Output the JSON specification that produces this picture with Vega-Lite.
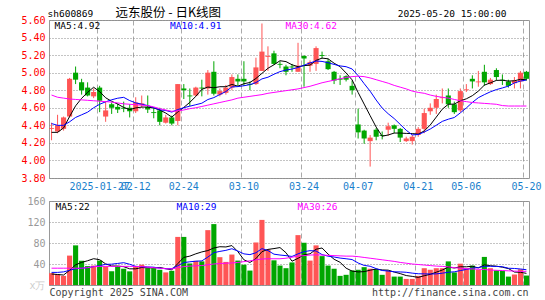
{
"$schema": "https://vega.github.io/schema/vega-lite/v6.json",
"padding": {"left": 20, "top": 5, "right": 10, "bottom": 0},
"background": "white",
"data": {"values": [
{"d":"01-15","o":4.36,"h":4.43,"l":4.23,"c":4.37,"v":22.6,"MA5":4.32,"MA10":4.42,"MA30":4.745,"VMA5":21,"VMA10":24,"VMA30":32},
{"d":"01-16","o":4.33,"h":4.52,"l":4.31,"c":4.40,"v":20.6,"MA5":4.32,"MA10":4.40,"MA30":4.72,"VMA5":20,"VMA10":24,"VMA30":32},
{"d":"01-17","o":4.36,"h":4.50,"l":4.34,"c":4.49,"v":17.4,"MA5":4.37,"MA10":4.40,"MA30":4.71,"VMA5":19,"VMA10":25,"VMA30":32},
{"d":"01-20","o":4.50,"h":4.94,"l":4.49,"c":4.93,"v":56,"MA5":4.50,"MA10":4.44,"MA30":4.70,"VMA5":28,"VMA10":28,"VMA30":32},
{"d":"01-21","o":5.00,"h":5.07,"l":4.87,"c":4.92,"v":75.5,"MA5":4.622,"MA10":4.49,"MA30":4.695,"VMA5":38.4,"VMA10":31,"VMA30":32},
{"d":"01-22","o":4.89,"h":4.93,"l":4.75,"c":4.80,"v":46,"MA5":4.708,"MA10":4.52,"MA30":4.69,"VMA5":43.1,"VMA10":32,"VMA30":32},
{"d":"01-23","o":4.83,"h":4.89,"l":4.73,"c":4.74,"v":36,"MA5":4.776,"MA10":4.55,"MA30":4.685,"VMA5":46.2,"VMA10":33,"VMA30":33},
{"d":"01-24","o":4.73,"h":4.82,"l":4.71,"c":4.78,"v":37,"MA5":4.834,"MA10":4.60,"MA30":4.68,"VMA5":50.1,"VMA10":35,"VMA30":35},
{"d":"01-27","o":4.83,"h":4.85,"l":4.55,"c":4.68,"v":46.5,"MA5":4.784,"MA10":4.64,"MA30":4.675,"VMA5":48.2,"VMA10":37,"VMA30":35.5},
{"d":"02-05","o":4.50,"h":4.67,"l":4.44,"c":4.57,"v":35.5,"MA5":4.714,"MA10":4.668,"MA30":4.67,"VMA5":40.2,"VMA10":39.3,"VMA30":35.5},
{"d":"02-06","o":4.64,"h":4.66,"l":4.53,"c":4.60,"v":26,"MA5":4.674,"MA10":4.691,"MA30":4.665,"VMA5":36.2,"VMA10":39.7,"VMA30":35.5},
{"d":"02-07","o":4.61,"h":4.65,"l":4.54,"c":4.58,"v":35.5,"MA5":4.642,"MA10":4.709,"MA30":4.655,"VMA5":36.1,"VMA10":41.1,"VMA30":35.5},
{"d":"02-10","o":4.60,"h":4.67,"l":4.55,"c":4.59,"v":31,"MA5":4.604,"MA10":4.719,"MA30":4.645,"VMA5":34.9,"VMA10":42.5,"VMA30":35.5},
{"d":"02-11","o":4.60,"h":4.64,"l":4.49,"c":4.56,"v":26,"MA5":4.58,"MA10":4.682,"MA30":4.64,"VMA5":30.8,"VMA10":39.5,"VMA30":35.5},
{"d":"02-12","o":4.56,"h":4.72,"l":4.54,"c":4.66,"v":35.5,"MA5":4.598,"MA10":4.656,"MA30":4.635,"VMA5":30.8,"VMA10":35.5,"VMA30":35.5},
{"d":"02-13","o":4.63,"h":4.74,"l":4.60,"c":4.65,"v":38.7,"MA5":4.608,"MA10":4.641,"MA30":4.63,"VMA5":33.3,"VMA10":34.8,"VMA30":35},
{"d":"02-14","o":4.61,"h":4.74,"l":4.54,"c":4.58,"v":32,"MA5":4.608,"MA10":4.625,"MA30":4.625,"VMA5":32.6,"VMA10":34.4,"VMA30":34},
{"d":"02-17","o":4.55,"h":4.60,"l":4.48,"c":4.54,"v":32,"MA5":4.598,"MA10":4.601,"MA30":4.61,"VMA5":32.8,"VMA10":33.9,"VMA30":33},
{"d":"02-18","o":4.57,"h":4.60,"l":4.40,"c":4.44,"v":29,"MA5":4.574,"MA10":4.577,"MA30":4.59,"VMA5":33.4,"VMA10":32.1,"VMA30":32},
{"d":"02-19","o":4.43,"h":4.52,"l":4.42,"c":4.49,"v":24,"MA5":4.54,"MA10":4.569,"MA30":4.575,"VMA5":31.1,"VMA10":31.0,"VMA30":31},
{"d":"02-20","o":4.49,"h":4.51,"l":4.40,"c":4.42,"v":27,"MA5":4.494,"MA10":4.551,"MA30":4.56,"VMA5":28.8,"VMA10":31.1,"VMA30":30.5},
{"d":"02-21","o":4.45,"h":4.87,"l":4.40,"c":4.87,"v":91.6,"MA5":4.552,"MA10":4.58,"MA30":4.565,"VMA5":40.7,"VMA10":36.7,"VMA30":33},
{"d":"02-24","o":4.82,"h":4.87,"l":4.70,"c":4.80,"v":91.6,"MA5":4.604,"MA10":4.601,"MA30":4.575,"VMA5":52.6,"VMA10":42.7,"VMA30":35},
{"d":"02-25","o":4.74,"h":4.82,"l":4.62,"c":4.73,"v":41,"MA5":4.662,"MA10":4.618,"MA30":4.59,"VMA5":55.0,"VMA10":44.2,"VMA30":36},
{"d":"02-26","o":4.74,"h":4.84,"l":4.73,"c":4.83,"v":46,"MA5":4.73,"MA10":4.635,"MA30":4.60,"VMA5":59.4,"VMA10":45.3,"VMA30":36.5},
{"d":"02-27","o":4.83,"h":4.92,"l":4.73,"c":4.82,"v":45,"MA5":4.81,"MA10":4.652,"MA30":4.615,"VMA5":63.0,"VMA10":45.9,"VMA30":37},
{"d":"02-28","o":4.82,"h":5.03,"l":4.75,"c":5.00,"v":104.5,"MA5":4.836,"MA10":4.694,"MA30":4.63,"VMA5":65.6,"VMA10":53.2,"VMA30":38.5},
{"d":"03-03","o":5.01,"h":5.13,"l":4.74,"c":4.76,"v":116,"MA5":4.828,"MA10":4.716,"MA30":4.645,"VMA5":70.5,"VMA10":61.6,"VMA30":40},
{"d":"03-04","o":4.75,"h":4.82,"l":4.73,"c":4.79,"v":53,"MA5":4.84,"MA10":4.751,"MA30":4.66,"VMA5":72.9,"VMA10":64.0,"VMA30":41},
{"d":"03-05","o":4.77,"h":4.86,"l":4.75,"c":4.83,"v":44,"MA5":4.84,"MA10":4.785,"MA30":4.675,"VMA5":72.5,"VMA10":66.0,"VMA30":41.5},
{"d":"03-06","o":4.83,"h":4.98,"l":4.80,"c":4.95,"v":58,"MA5":4.866,"MA10":4.838,"MA30":4.69,"VMA5":75.1,"VMA10":69.1,"VMA30":42},
{"d":"03-07","o":4.93,"h":4.98,"l":4.85,"c":4.90,"v":46.5,"MA5":4.846,"MA10":4.841,"MA30":4.71,"VMA5":63.5,"VMA10":64.6,"VMA30":43},
{"d":"03-10","o":4.93,"h":5.13,"l":4.85,"c":4.90,"v":38.7,"MA5":4.874,"MA10":4.851,"MA30":4.72,"VMA5":48.0,"VMA10":59.3,"VMA30":44.5},
{"d":"03-11","o":4.87,"h":4.90,"l":4.80,"c":4.86,"v":27.5,"MA5":4.888,"MA10":4.864,"MA30":4.73,"VMA5":42.9,"VMA10":57.9,"VMA30":46},
{"d":"03-12","o":4.87,"h":5.17,"l":4.86,"c":5.06,"v":81,"MA5":4.934,"MA10":4.887,"MA30":4.74,"VMA5":50.3,"VMA10":61.4,"VMA30":48},
{"d":"03-13","o":5.02,"h":5.56,"l":5.02,"c":5.24,"v":124,"MA5":4.992,"MA10":4.929,"MA30":4.75,"VMA5":63.5,"VMA10":69.3,"VMA30":49.5},
{"d":"03-14","o":5.18,"h":5.30,"l":5.02,"c":5.19,"v":67.7,"MA5":5.05,"MA10":4.948,"MA30":4.765,"VMA5":67.8,"VMA10":65.6,"VMA30":50},
{"d":"03-17","o":5.22,"h":5.25,"l":5.09,"c":5.10,"v":47,"MA5":5.09,"MA10":4.982,"MA30":4.775,"VMA5":69.4,"VMA10":58.7,"VMA30":50},
{"d":"03-18","o":5.10,"h":5.13,"l":5.05,"c":5.09,"v":37,"MA5":5.136,"MA10":5.012,"MA30":4.785,"VMA5":71.3,"VMA10":57.1,"VMA30":50},
{"d":"03-19","o":5.07,"h":5.09,"l":4.97,"c":5.01,"v":32,"MA5":5.126,"MA10":5.03,"MA30":4.795,"VMA5":61.5,"VMA10":55.9,"VMA30":51},
{"d":"03-20","o":5.07,"h":5.10,"l":5.01,"c":5.06,"v":43,"MA5":5.09,"MA10":5.041,"MA30":4.805,"VMA5":45.3,"VMA10":54.4,"VMA30":53},
{"d":"03-21","o":5.01,"h":5.34,"l":5.01,"c":5.08,"v":95,"MA5":5.068,"MA10":5.059,"MA30":4.815,"VMA5":50.8,"VMA10":59.3,"VMA30":55},
{"d":"03-24","o":5.19,"h":5.20,"l":4.84,"c":5.16,"v":80.6,"MA5":5.08,"MA10":5.085,"MA30":4.83,"VMA5":57.5,"VMA10":63.5,"VMA30":56},
{"d":"03-25","o":5.08,"h":5.14,"l":5.01,"c":5.12,"v":46.5,"MA5":5.086,"MA10":5.111,"MA30":4.845,"VMA5":59.4,"VMA10":65.4,"VMA30":57},
{"d":"03-26","o":5.10,"h":5.30,"l":5.02,"c":5.28,"v":75.5,"MA5":5.14,"MA10":5.133,"MA30":4.865,"VMA5":68.1,"VMA10":64.8,"VMA30":57.5},
{"d":"03-27","o":5.20,"h":5.24,"l":5.16,"c":5.19,"v":55,"MA5":5.166,"MA10":5.128,"MA30":4.885,"VMA5":70.5,"VMA10":57.9,"VMA30":57},
{"d":"03-28","o":5.13,"h":5.16,"l":5.03,"c":5.04,"v":37,"MA5":5.158,"MA10":5.113,"MA30":4.90,"VMA5":58.9,"VMA10":54.9,"VMA30":56.5},
{"d":"03-31","o":5.01,"h":5.02,"l":4.87,"c":4.91,"v":31,"MA5":5.108,"MA10":5.094,"MA30":4.915,"VMA5":49.0,"VMA10":53.3,"VMA30":56},
{"d":"04-01","o":4.93,"h":4.97,"l":4.86,"c":4.92,"v":17.4,"MA5":5.068,"MA10":5.077,"MA30":4.93,"VMA5":43.2,"VMA10":51.3,"VMA30":55.5},
{"d":"04-02","o":4.96,"h":4.97,"l":4.90,"c":4.92,"v":19.4,"MA5":4.996,"MA10":5.068,"MA30":4.945,"VMA5":32.0,"VMA10":50.0,"VMA30":55},
{"d":"04-03","o":4.85,"h":4.91,"l":4.75,"c":4.80,"v":27.7,"MA5":4.918,"MA10":5.042,"MA30":4.955,"VMA5":26.5,"VMA10":48.5,"VMA30":55},
{"d":"04-07","o":4.41,"h":4.59,"l":4.25,"c":4.32,"v":29,"MA5":4.774,"MA10":4.966,"MA30":4.96,"VMA5":24.9,"VMA10":41.9,"VMA30":54},
{"d":"04-08","o":4.34,"h":4.35,"l":4.19,"c":4.25,"v":34,"MA5":4.642,"MA10":4.875,"MA30":4.955,"VMA5":25.5,"VMA10":37.3,"VMA30":52.5},
{"d":"04-09","o":4.22,"h":4.29,"l":3.93,"c":4.26,"v":31,"MA5":4.51,"MA10":4.789,"MA30":4.94,"VMA5":28.2,"VMA10":35.7,"VMA30":51},
{"d":"04-10","o":4.35,"h":4.37,"l":4.23,"c":4.27,"v":30,"MA5":4.38,"MA10":4.688,"MA30":4.92,"VMA5":30.3,"VMA10":31.2,"VMA30":49.5},
{"d":"04-11","o":4.29,"h":4.33,"l":4.24,"c":4.28,"v":19.4,"MA5":4.276,"MA10":4.597,"MA30":4.90,"VMA5":28.7,"VMA10":27.6,"VMA30":48},
{"d":"04-14","o":4.35,"h":4.43,"l":4.28,"c":4.39,"v":27,"MA5":4.29,"MA10":4.532,"MA30":4.88,"VMA5":28.3,"VMA10":26.6,"VMA30":46.5},
{"d":"04-15","o":4.40,"h":4.41,"l":4.31,"c":4.36,"v":16,"MA5":4.312,"MA10":4.477,"MA30":4.855,"VMA5":24.7,"VMA10":25.1,"VMA30":45},
{"d":"04-16","o":4.36,"h":4.37,"l":4.21,"c":4.26,"v":16,"MA5":4.312,"MA10":4.411,"MA30":4.835,"VMA5":21.7,"VMA10":24.9,"VMA30":43},
{"d":"04-17","o":4.22,"h":4.27,"l":4.21,"c":4.25,"v":11.6,"MA5":4.308,"MA10":4.344,"MA30":4.815,"VMA5":18.0,"VMA10":24.2,"VMA30":41.5},
{"d":"04-18","o":4.22,"h":4.29,"l":4.18,"c":4.27,"v":11.6,"MA5":4.306,"MA10":4.291,"MA30":4.79,"VMA5":16.4,"VMA10":22.6,"VMA30":40},
{"d":"04-21","o":4.29,"h":4.38,"l":4.27,"c":4.36,"v":17.4,"MA5":4.30,"MA10":4.295,"MA30":4.775,"VMA5":14.5,"VMA10":21.4,"VMA30":39},
{"d":"04-22","o":4.36,"h":4.59,"l":4.31,"c":4.54,"v":32,"MA5":4.336,"MA10":4.324,"MA30":4.765,"VMA5":17.7,"VMA10":21.2,"VMA30":38},
{"d":"04-23","o":4.56,"h":4.65,"l":4.52,"c":4.60,"v":29,"MA5":4.404,"MA10":4.358,"MA30":4.745,"VMA5":20.3,"VMA10":21.0,"VMA30":37},
{"d":"04-24","o":4.60,"h":4.75,"l":4.53,"c":4.70,"v":32,"MA5":4.494,"MA10":4.401,"MA30":4.73,"VMA5":24.4,"VMA10":21.2,"VMA30":36},
{"d":"04-25","o":4.71,"h":4.82,"l":4.65,"c":4.72,"v":32,"MA5":4.584,"MA10":4.445,"MA30":4.72,"VMA5":28.5,"VMA10":22.5,"VMA30":35.5},
{"d":"04-28","o":4.74,"h":4.82,"l":4.60,"c":4.64,"v":45,"MA5":4.64,"MA10":4.47,"MA30":4.71,"VMA5":34.0,"VMA10":24.3,"VMA30":34.5},
{"d":"04-29","o":4.64,"h":4.67,"l":4.53,"c":4.55,"v":24,"MA5":4.642,"MA10":4.489,"MA30":4.695,"VMA5":32.4,"VMA10":25.1,"VMA30":33},
{"d":"04-30","o":4.57,"h":4.82,"l":4.55,"c":4.79,"v":40.6,"MA5":4.68,"MA10":4.542,"MA30":4.68,"VMA5":34.7,"VMA10":27.5,"VMA30":32},
{"d":"05-06","o":4.80,"h":4.87,"l":4.78,"c":4.81,"v":32,"MA5":4.702,"MA10":4.598,"MA30":4.67,"VMA5":34.7,"VMA10":29.6,"VMA30":31},
{"d":"05-07","o":4.93,"h":4.97,"l":4.82,"c":4.90,"v":37,"MA5":4.738,"MA10":4.661,"MA30":4.66,"VMA5":35.7,"VMA10":32.1,"VMA30":30.5},
{"d":"05-08","o":4.89,"h":5.02,"l":4.84,"c":4.90,"v":29,"MA5":4.79,"MA10":4.715,"MA30":4.655,"VMA5":32.5,"VMA10":33.3,"VMA30":30},
{"d":"05-09","o":5.01,"h":5.09,"l":4.85,"c":4.89,"v":53.5,"MA5":4.858,"MA10":4.75,"MA30":4.65,"VMA5":38.4,"VMA10":35.4,"VMA30":29.5},
{"d":"05-12","o":4.87,"h":4.94,"l":4.86,"c":4.92,"v":32,"MA5":4.884,"MA10":4.782,"MA30":4.645,"VMA5":36.7,"VMA10":35.7,"VMA30":28.5},
{"d":"05-13","o":5.03,"h":5.05,"l":4.91,"c":4.95,"v":28,"MA5":4.912,"MA10":4.807,"MA30":4.64,"VMA5":35.9,"VMA10":35.3,"VMA30":28},
{"d":"05-14","o":4.92,"h":4.98,"l":4.86,"c":4.91,"v":27,"MA5":4.914,"MA10":4.826,"MA30":4.625,"VMA5":33.9,"VMA10":34.8,"VMA30":27.5},
{"d":"05-15","o":4.90,"h":4.92,"l":4.83,"c":4.85,"v":16,"MA5":4.904,"MA10":4.847,"MA30":4.62,"VMA5":31.3,"VMA10":31.9,"VMA30":27},
{"d":"05-16","o":4.88,"h":4.95,"l":4.82,"c":4.91,"v":20,"MA5":4.908,"MA10":4.883,"MA30":4.62,"VMA5":24.6,"VMA10":31.5,"VMA30":26.5},
{"d":"05-19","o":4.90,"h":5.02,"l":4.82,"c":5.00,"v":30,"MA5":4.924,"MA10":4.904,"MA30":4.62,"VMA5":24.2,"VMA10":30.5,"VMA30":26},
{"d":"05-20","o":5.01,"h":5.02,"l":4.91,"c":4.93,"v":18,"MA5":4.92,"MA10":4.916,"MA30":4.62,"VMA5":22.2,"VMA10":29.1,"VMA30":26}
]},
"spacing": 3,
"vconcat": [
{
"width": 480, "height": 158,
"layer": [
{"mark": {"type": "rule", "strokeWidth": 1},
 "encoding": {
  "x": {"field": "d", "type": "ordinal", "scale": {"paddingInner": 0.15, "paddingOuter": 0},
    "axis": {"values": ["01-27","02-12","02-24","03-10","03-24","04-07","04-21","05-06","05-20"], "bandPosition": 0, "grid": true, "gridDash": [5,3], "gridColor": "#aaa", "labelColor": "#1a7fcc", "labelPadding": 3, "labelOverlap": false, "labelAngle": 0, "labelExpr": "datum.value == '01-27' ? '2025-01-27' : datum.label", "title": null}},
  "y": {"field": "l", "type": "quantitative", "scale": {"domain": [3.8, 5.6], "zero": false, "nice": false},
    "axis": {"values": [3.8,4.0,4.2,4.4,4.6,4.8,5.0,5.2,5.4,5.6], "format": ".2f", "grid": true, "gridDash": [1,2], "gridColor": "#888", "labelColor": "#ff0000", "labelPadding": 4,
      "title": "sh600869", "titleAngle": 0, "titleX": -2, "titleY": -4, "titleAlign": "left", "titleBaseline": "alphabetic"}},
  "y2": {"field": "h"},
  "color": {"condition": {"test": "datum.c >= datum.o", "value": "#ff5555"}, "value": "#00a600"}
 }},
{"mark": {"type": "bar"},
 "encoding": {
  "x": {"field": "d", "type": "ordinal", "axis": null},
  "y": {"field": "o", "type": "quantitative", "axis": null},
  "y2": {"field": "c"},
  "color": {"condition": {"test": "datum.c >= datum.o", "value": "#ff5555"}, "value": "#00a600"}
 }},
{"transform": [{"fold": ["MA5","MA10","MA30"], "as": ["k","val"]}],
 "mark": {"type": "line", "strokeWidth": 1},
 "encoding": {
  "x": {"field": "d", "type": "ordinal", "axis": {"orient": "top", "labels": false, "grid": false, "title": "远东股份 - 日K线图", "titleX": 66, "titleY": -4, "titleAlign": "left", "titleBaseline": "alphabetic", "titleFont": "Noto Sans CJK SC", "titleFontSize": 12.5}},
  "y": {"field": "val", "type": "quantitative", "axis": {"orient": "right", "labels": false, "grid": false, "title": "2025-05-20 15:00:00", "titleAngle": 0, "titleX": -23, "titleY": -4, "titleAlign": "right", "titleBaseline": "alphabetic"}},
  "color": {"field": "k", "type": "nominal", "scale": {"domain": ["MA5","MA10","MA30"], "range": ["#000000","#0000ff","#ff00ff"]},
    "legend": {"title": null, "orient": "top-left", "offset": 1, "direction": "horizontal", "columns": 3, "columnPadding": 59.5, "gridAlign": "all",
      "symbolType": "circle", "symbolSize": 1, "symbolOpacity": 0, "labelOffset": -5,
      "labelExpr": "datum.value == 'MA5' ? 'MA5:4.92' : datum.value == 'MA10' ? 'MA10:4.91' : 'MA30:4.62'",
      "encode": {"labels": {"update": {"fill": {"signal": "datum.value == 'MA5' ? '#000000' : datum.value == 'MA10' ? '#0000ff' : '#ff00ff'"}}}}}}
 }}
],
"resolve": {"axis": {"x": "independent", "y": "independent"}}
},
{
"width": 480, "height": 84,
"layer": [
{"mark": {"type": "bar"},
 "encoding": {
  "x": {"field": "d", "type": "ordinal", "scale": {"paddingInner": 0.15, "paddingOuter": 0},
    "axis": {"values": ["01-27","02-12","02-24","03-10","03-24","04-07","04-21","05-06","05-20"], "bandPosition": 0, "grid": true, "gridDash": [5,3], "gridColor": "#aaa", "labels": false,
      "title": "Copyright 2025 SINA.COM", "titleX": 0, "titleY": 10, "titleAlign": "left", "titleBaseline": "alphabetic", "titleFontSize": 10, "titleColor": "#444"}},
  "y": {"field": "v", "type": "quantitative", "scale": {"domain": [0, 160], "nice": false},
    "axis": {"values": [0,40,80,120,160], "grid": true, "gridDash": [1,2], "gridColor": "#888", "labelPadding": 4,
      "labelColor": {"condition": {"test": "datum.value == 0", "value": "#cccccc"}, "value": "#999999"},
      "labelExpr": "datum.value == 0 ? 'x万' : datum.label", "title": null}},
  "color": {"condition": {"test": "datum.c >= datum.o", "value": "#ff5555"}, "value": "#00a600"}
 }},
{"transform": [{"fold": ["VMA5","VMA10","VMA30"], "as": ["k","val"]}],
 "mark": {"type": "line", "strokeWidth": 1},
 "encoding": {
  "x": {"field": "d", "type": "ordinal", "axis": null},
  "y": {"field": "val", "type": "quantitative", "axis": {"orient": "right", "labels": false, "grid": false, "title": "http://finance.sina.com.cn", "titleAngle": 0, "titleX": -1, "titleY": 94, "titleAlign": "right", "titleBaseline": "alphabetic", "titleFontSize": 10, "titleColor": "#444"}},
  "color": {"field": "k", "type": "nominal", "scale": {"domain": ["VMA5","VMA10","VMA30"], "range": ["#000000","#0000ff","#ff00ff"]},
    "legend": {"title": null, "orient": "top-left", "offset": 1, "direction": "horizontal", "columns": 3, "columnPadding": 75, "gridAlign": "all",
      "symbolType": "circle", "symbolSize": 1, "symbolOpacity": 0, "labelOffset": -4,
      "labelExpr": "datum.value == 'VMA5' ? 'MA5:22' : datum.value == 'VMA10' ? 'MA10:29' : 'MA30:26'",
      "encode": {"labels": {"update": {"fill": {"signal": "datum.value == 'VMA5' ? '#000000' : datum.value == 'VMA10' ? '#0000ff' : '#ff00ff'"}}}}}}
 }}
],
"resolve": {"axis": {"x": "independent", "y": "independent"}}
}
],
"resolve": {"scale": {"color": "independent"}, "legend": {"color": "independent"}},
"config": {
 "view": {"stroke": "#999999", "strokeWidth": 1},
 "axis": {"labelFont": "DejaVu Sans Mono", "labelFontSize": 10, "ticks": false, "domain": false, "titleFont": "DejaVu Sans Mono", "titleFontSize": 9.5, "titleFontWeight": "normal", "titleColor": "#000000", "gridWidth": 1},
 "legend": {"labelFont": "DejaVu Sans Mono", "labelFontSize": 9.5, "symbolStrokeWidth": 0, "padding": 0, "rowPadding": 0, "labelLimit": 0}
}
}
